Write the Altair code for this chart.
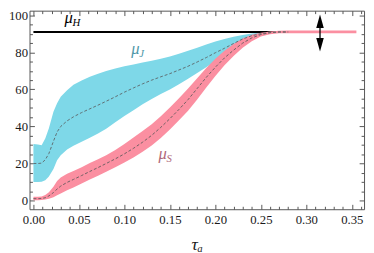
import altair as alt
import pandas as pd

# ---------------- data ----------------
tau = [0.000, 0.005, 0.009, 0.013, 0.017, 0.022, 0.026, 0.030, 0.037, 0.044,
       0.053, 0.062, 0.071, 0.080, 0.090, 0.100, 0.110, 0.120, 0.130, 0.140,
       0.150, 0.160, 0.170, 0.180, 0.190, 0.200, 0.210, 0.220, 0.230, 0.240,
       0.250, 0.260, 0.270, 0.280, 0.300, 0.320, 0.340, 0.355]

# mu_J (cyan band) - defined up to tau = 0.28
j_mid = [20.0, 20.0, 20.2, 22.0, 25.4, 32.0, 37.0, 40.0, 43.0, 45.2,
         47.5, 49.5, 51.5, 53.6, 56.0, 58.5, 60.8, 63.0, 65.0, 66.8,
         68.5, 70.5, 72.5, 74.8, 77.2, 79.8, 82.2, 84.8, 87.2, 89.0,
         90.1, 90.7, 91.0, 91.0]
j_hi = [30.5, 30.3, 29.8, 33.5, 39.0, 48.0, 52.5, 56.0, 59.5, 62.5,
        64.8, 66.8, 68.5, 70.0, 71.3, 72.5, 73.5, 74.5, 75.5, 76.5,
        77.8, 79.2, 80.8, 82.5, 84.2, 85.8, 87.2, 88.4, 89.4, 90.2,
        90.7, 91.0, 91.0, 91.0]
j_lo = [10.0, 10.0, 10.2, 11.0, 13.0, 17.0, 21.8, 24.5, 27.5, 29.6,
        31.8, 33.9, 36.2, 38.8, 42.2, 45.6, 48.8, 52.0, 54.8, 57.5,
        60.0, 62.8, 65.8, 68.8, 72.0, 75.3, 78.5, 81.8, 84.8, 87.6,
        89.4, 90.4, 90.9, 91.0]

# mu_S (pink band)
s_mid = [1.0, 1.0, 1.1, 1.5, 2.5, 4.3, 6.2, 7.8, 9.8, 11.4,
         13.5, 15.7, 17.8, 20.0, 22.5, 25.2, 28.2, 31.5, 35.2, 39.5,
         44.2, 49.2, 54.5, 60.5, 66.5, 72.0, 77.0, 81.2, 85.0, 87.8,
         89.6, 90.6, 91.0, 91.0, 91.0, 91.0, 91.0, 91.0]
s_hi = [2.0, 2.0, 2.2, 3.0, 4.5, 7.5, 10.5, 12.5, 14.5, 15.9,
        18.0, 20.2, 22.3, 24.5, 27.3, 30.5, 34.0, 37.5, 41.2, 45.5,
        50.2, 55.2, 60.5, 66.0, 71.5, 76.5, 80.8, 84.5, 87.5, 89.5,
        90.6, 91.2, 91.6, 91.8, 91.8, 91.8, 91.8, 91.8]
s_lo = [0.2, 0.2, 0.3, 0.5, 1.0, 1.8, 2.8, 3.8, 5.5, 7.1,
        9.2, 11.3, 13.4, 15.6, 18.0, 20.5, 23.2, 26.3, 29.7, 33.7,
        38.3, 43.3, 48.5, 54.5, 61.0, 67.3, 73.0, 78.0, 82.5, 86.0,
        88.5, 89.8, 90.3, 90.3, 90.3, 90.3, 90.3, 90.3]

# mu_H (black line)
h_tau = [0.0, 0.28]
h_val = [91.0, 91.0]

# double arrow
arrow_tau = [0.315]
arrow_lo = [84.1]
arrow_hi = [96.8]

# labels
lab_main = ["μ", "μ", "μ"]
lab_sub = ["H", "J", "S"]
lab_tau = [0.0387, 0.112, 0.142]
lab_val = [95.8, 79.0, 22.3]
lab_color = ["#000000", "#4f98a8", "#b0687a"]

x_major = [0.00, 0.05, 0.10, 0.15, 0.20, 0.25, 0.30, 0.35]
x_minor = [0.01, 0.02, 0.03, 0.04, 0.06, 0.07, 0.08, 0.09, 0.11, 0.12, 0.13,
           0.14, 0.16, 0.17, 0.18, 0.19, 0.21, 0.22, 0.23, 0.24, 0.26, 0.27,
           0.28, 0.29, 0.31, 0.32, 0.33, 0.34, 0.36]
y_major = [0, 20, 40, 60, 80, 100]
y_minor = [5, 10, 15, 25, 30, 35, 45, 50, 55, 65, 70, 75, 85, 90, 95]

# ---------------- tables ----------------
nj = len(j_mid)
dj = pd.DataFrame({"tau": tau[:nj], "mid": j_mid, "hi": j_hi, "lo": j_lo})
ds = pd.DataFrame({"tau": tau, "mid": s_mid, "hi": s_hi, "lo": s_lo})
dh = pd.DataFrame({"tau": h_tau, "v": h_val})
da = pd.DataFrame({"tau": arrow_tau, "lo": arrow_lo, "hi": arrow_hi})
dl = pd.DataFrame({"tau": lab_tau, "v": lab_val, "m": lab_main, "s": lab_sub, "c": lab_color})

xs = alt.Scale(domain=[-0.0043, 0.3634], nice=False, zero=False)
ys = alt.Scale(domain=[-4.7, 102.5], nice=False, zero=False)

SERIF = "Liberation Serif"
FRAME = "#555555"


def ax(orient, values, size, labels, title=None):
    kw = dict(orient=orient, values=values, tickSize=size, offset=-size,
              domain=False, grid=False, ticks=True, tickColor=FRAME, tickWidth=1,
              labels=labels)
    if labels:
        kw.update(labelFont=SERIF, labelFontSize=13, labelColor="#1a1a1a",
                  labelPadding=2 if orient in ("left", "right") else 5)
        if orient == "bottom":
            kw.update(format=".2f")
    if title:
        kw.update(title=title, titleFont=SERIF, titleFontSize=18,
                  titleFontStyle="italic", titleFontWeight="normal",
                  titleColor="#1a1a1a", titlePadding=9)
    else:
        kw.update(title=None)
    return alt.Axis(**kw)


def X(axis=None, field="tau"):
    return alt.X(f"{field}:Q", scale=xs, axis=axis)


def Y(field, axis=None):
    return alt.Y(f"{field}:Q", scale=ys, axis=axis)


# axis-carrying invisible layers
axes_layers = []
for xa, ya in [
    (ax("bottom", x_major, 5, True, "τₐ"), ax("left", y_major, 5, True)),
    (ax("bottom", x_minor, 3, False), ax("left", y_minor, 3, False)),
    (ax("top", x_major, 5, False), ax("right", y_major, 5, False)),
    (ax("top", x_minor, 3, False), ax("right", y_minor, 3, False)),
]:
    axes_layers.append(
        alt.Chart(ds).mark_point(opacity=0).encode(x=X(xa), y=Y("mid", ya))
    )

cyan_band = alt.Chart(dj).mark_area(color="#7ed8e8", opacity=1).encode(
    x=X(), y=Y("lo"), y2="hi:Q")
h_line = alt.Chart(dh).mark_line(color="#000000", strokeWidth=2).encode(
    x=X(), y=Y("v"))
pink_band = alt.Chart(ds).mark_area(color="#fb8fa1", opacity=1).encode(
    x=X(), y=Y("lo"), y2="hi:Q")
j_line = alt.Chart(dj).mark_line(color="#5f6f73", strokeWidth=1, strokeDash=[3, 2]).encode(
    x=X(), y=Y("mid"))
s_line = alt.Chart(ds[ds.tau <= 0.28]).mark_line(color="#6f5f62", strokeWidth=1, strokeDash=[3, 2]).encode(
    x=X(), y=Y("mid"))

arrow_shaft = alt.Chart(da).mark_rule(color="#000000", strokeWidth=1.3).encode(
    x=X(), y=Y("lo"), y2="hi:Q")
arrow_up = alt.Chart(da).mark_point(
    shape="M0,-1L0.55,1L-0.55,1Z", size=196, filled=True, color="#000000", opacity=1
).encode(x=X(), y=Y("hi"))
arrow_dn = alt.Chart(da).mark_point(
    shape="M0,1L0.55,-1L-0.55,-1Z", size=196, filled=True, color="#000000", opacity=1
).encode(x=X(), y=Y("lo"))

mu_text = alt.Chart(dl).mark_text(
    font=SERIF, fontSize=17, fontStyle="italic", align="center", baseline="alphabetic"
).encode(x=X(), y=Y("v"), text="m:N", color=alt.Color("c:N", scale=None))
sub_text = alt.Chart(dl).mark_text(
    font=SERIF, fontSize=11, fontStyle="italic", align="left", baseline="alphabetic",
    dx=4, dy=3
).encode(x=X(), y=Y("v"), text="s:N", color=alt.Color("c:N", scale=None))

chart = alt.layer(
    *axes_layers, cyan_band, h_line, pink_band, j_line, s_line,
    arrow_shaft, arrow_up, arrow_dn, mu_text, sub_text
).resolve_axis(x="independent", y="independent").properties(
    width=342, height=203,
    autosize=alt.AutoSizeParams(type="none"),
    padding={"left": 22, "top": 0, "right": 2, "bottom": 42},
).configure_view(stroke=FRAME, strokeWidth=1)

chart.save("out.html", embed_options={"renderer": "svg", "actions": False})
